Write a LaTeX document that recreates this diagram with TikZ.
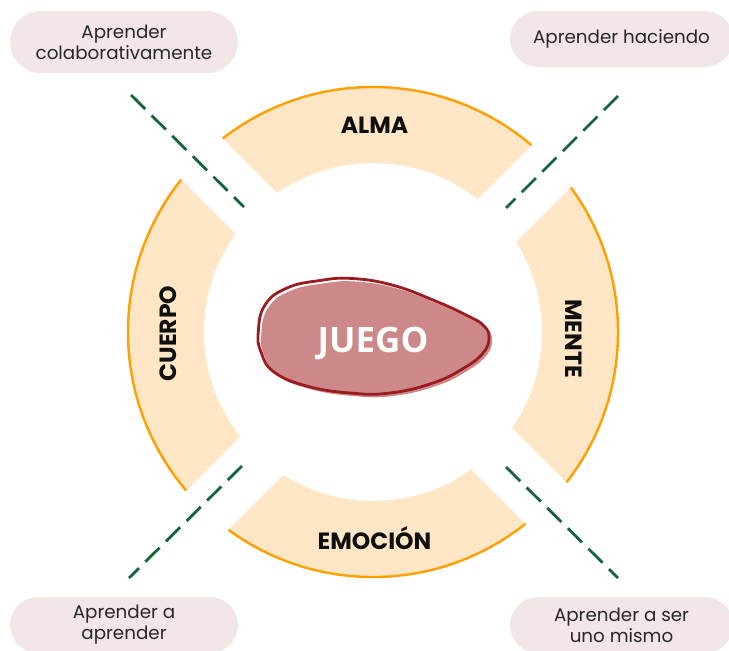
\documentclass[tikz,border=0pt]{standalone}
\usepackage{fontspec}
\usetikzlibrary{shapes.misc}
\newfontfamily\popfont{Poppins}
\newfontfamily\osfont{Open Sans}
\definecolor{ringfill}{RGB}{255,230,198}
\definecolor{ringline}{RGB}{255,160,0}
\definecolor{dashgreen}{RGB}{22,100,58}
\definecolor{pillfill}{RGB}{243,230,230}
\definecolor{blobfill}{RGB}{205,137,137}
\definecolor{blobline}{RGB}{155,27,32}
\definecolor{labeltext}{RGB}{15,15,15}
\definecolor{pilltext}{RGB}{40,40,40}
\tikzset{
  pill/.style={rounded rectangle, fill=pillfill, inner sep=0pt, align=center,
    text=pilltext, font=\popfont\fontsize{18.3}{21}\selectfont},
  seglabel/.style={text=labeltext, font=\popfont\bfseries\fontsize{23.5}{26}\selectfont, inner sep=0pt},
  dashline/.style={draw=dashgreen, line width=2.8pt, dash pattern=on 20pt off 9pt},
}
\begin{document}
\begin{tikzpicture}[x=1pt,y=-1pt]
\useasboundingbox (0,0) rectangle (729,651);
\coordinate (C) at (373,332);
% ring
\fill[ringfill, even odd rule] (C) circle[radius=245] (C) circle[radius=169];
\draw[ringline, line width=2.4pt] (C) circle[radius=245];
\begin{scope}
  \clip (C) circle[radius=252];
  \fill[white] (-10,-12) -- (760,758) -- (760,676) -- (-10,-94) -- cycle;
  \fill[white] (-10,687) -- (760,-83) -- (760,-2) -- (-10,768) -- cycle;
\end{scope}
% dashed separators
\coordinate (ula) at (131,95);  \coordinate (ulb) at (244,207);
\coordinate (ura) at (618,96);  \coordinate (urb) at (506,208);
\coordinate (lla) at (242,466); \coordinate (llb) at (129,578);
\coordinate (lra) at (506,467); \coordinate (lrb) at (618,578);
\draw[dashline] (ula) -- (ulb);
\draw[dashline] (ura) -- (urb);
\draw[dashline] (lla) -- (llb);
\draw[dashline] (lra) -- (lrb);
% pills
\node[pill, minimum width=228pt, minimum height=62pt] (ptl) at (124,42) {Aprender\\colaborativamente};
\node[pill, minimum width=223pt, minimum height=56pt] (ptr) at (621.5,39) {Aprender haciendo};
\node[pill, minimum width=228pt, minimum height=56pt] (pbl) at (124,625) {Aprender a\\aprender};
\node[pill, minimum width=223pt, minimum height=56pt] (pbr) at (621.5,625) {Aprender a ser\\uno mismo};
% segment labels
\node[seglabel, anchor=base] (alma) at (374.5,133.5) {ALMA};
\node[seglabel, anchor=base] (emo) at (374.5,549) {EMOCIÓN};
\node[seglabel, rotate=-90] (mente) at (574,338.5) {MENTE};
\node[seglabel, rotate=90] (cuerpo) at (168,333.5) {CUERPO};
% central blob
\fill[blobfill, shift={(3,3)}] plot[smooth cycle, tension=0.75] coordinates {
  (258.3,331.7) (265,305) (287,288) (320,280.5) (352,278.5) (392,285)
  (433,300) (468,316) (484,326) (489,338) (483,353) (464,368) (433,383)
  (390,393) (350,393) (306.7,386) (274,372) (261,352)};
\draw[blobline, line width=2.8pt] plot[smooth cycle, tension=0.75] coordinates {
  (258.3,331.7) (265,305) (287,288) (320,280.5) (352,278.5) (392,285)
  (433,300) (468,316) (484,326) (489,338) (483,353) (464,368) (433,383)
  (390,393) (350,393) (306.7,386) (274,372) (261,352)};
\node[text=white, font=\osfont\bfseries\fontsize{35}{40}\selectfont, anchor=base, inner sep=0pt] (juego) at (373,352) {JUEGO};
\end{tikzpicture}
\end{document}
